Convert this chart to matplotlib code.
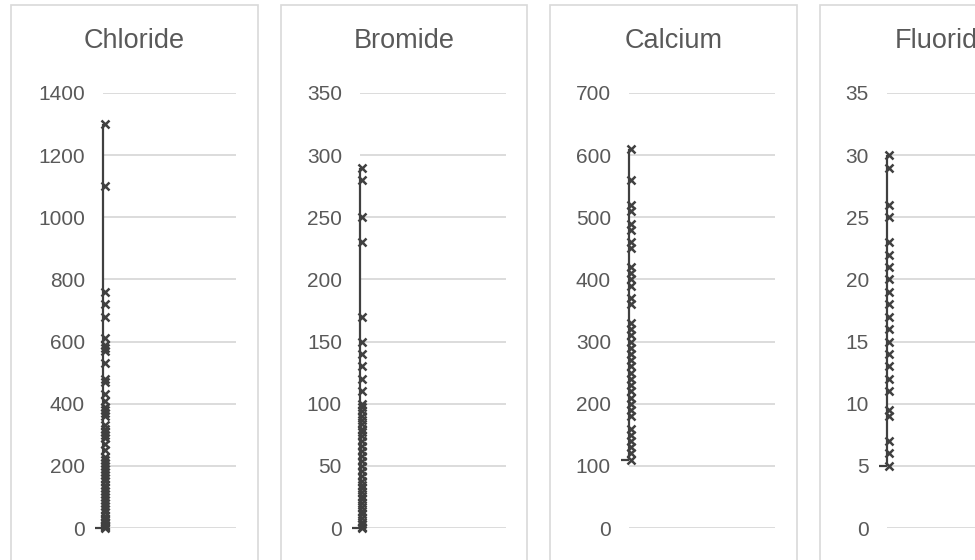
import numpy as np
import matplotlib.pyplot as plt
from matplotlib.patches import Rectangle
import matplotlib.transforms as mtransforms

plt.rcParams['font.family'] = ['Liberation Sans', 'DejaVu Sans']

# data
titles = ["Chloride", "Bromide", "Calcium", "Fluoride"]
chloride = [1300, 1100, 760, 720, 680, 610, 590, 580, 570, 530, 480, 470, 430, 410,
            390, 380, 370, 360, 330, 320, 310, 300, 290, 270, 250, 230, 220, 210, 200,
            190, 180, 170, 160, 150, 140, 130, 120, 110, 100, 90, 80, 70, 60, 50, 40,
            30, 25, 20, 15, 10, 5, 2, 0]
bromide = [290, 280, 250, 230, 170, 150, 140, 130, 120, 110, 100, 97, 94, 90, 87, 84,
           80, 77, 74, 70, 66, 62, 58, 54, 50, 46, 42, 38, 35, 32, 29, 26, 23, 20, 17,
           14, 11, 8, 5, 3, 1, 0]
calcium = [610, 560, 520, 510, 490, 480, 460, 450, 420, 410, 400, 390, 370, 360, 330,
           320, 310, 300, 290, 280, 270, 260, 250, 240, 230, 220, 210, 200, 190, 180,
           160, 150, 140, 130, 120, 110]
fluoride = [30, 29, 26, 25, 23, 22, 21, 20, 19, 18, 17, 16, 15, 14, 13, 12, 11, 9.5, 9,
            7, 6, 5]
series = [chloride, bromide, calcium, fluoride]
ymax = [1400, 350, 700, 35]
ystep = [200, 50, 100, 5]

W, H = 975, 560
fig = plt.figure(figsize=(W / 100, H / 100), dpi=100)

# layout in pixels (from top-left)
plot_lr = [(103, 236), (360, 506), (629, 775), (887, 1033)]
box_lr = [(11, 258), (281, 527), (550, 797), (820, 1067)]
top, bot = 93, 528
grid_c = '#d9d9d9'
txt_c = '#595959'
mark_c = '#404040'

for i in range(4):
    bl, br = box_lr[i]
    fig.patches.append(Rectangle((bl / W, -0.1), (br - bl) / W, 1.1 - 5 / H,
                                 transform=fig.transFigure, fill=False,
                                 edgecolor=grid_c, lw=1.2))
    fig.text(((bl + br) / 2) / W, 1 - 41 / H, titles[i], ha='center', va='center',
             fontsize=19.5, color=txt_c)

    l, r = plot_lr[i]
    ax = fig.add_axes([l / W, 1 - bot / H, (r - l) / W, (bot - top) / H])
    ax.set_xlim(0, 1)
    ax.set_ylim(0, ymax[i])
    ax.set_yticks(np.arange(0, ymax[i] + 1, ystep[i]))
    ax.yaxis.grid(True, color=grid_c, lw=1.3)
    ax.set_axisbelow(True)
    ax.set_xticks([])
    for s in ax.spines.values():
        s.set_visible(False)
    ax.tick_params(axis='y', length=0, pad=13, labelsize=15, labelcolor=txt_c)

    vals = series[i]
    ax.vlines(0, min(vals), max(vals), color=mark_c, lw=1.6, clip_on=False, zorder=3)
    off = mtransforms.ScaledTranslation(1.5 / 100, 0, fig.dpi_scale_trans)
    ax.plot([0] * len(vals), vals, linestyle='none', marker='x', ms=6, mew=1.8,
            color=mark_c, clip_on=False, zorder=4, transform=ax.transData + off)
    ax.plot([0], [min(vals)], marker=0, ms=6, mew=1.6, color=mark_c,
            clip_on=False, zorder=4)

fig.savefig('out.png', dpi=100)
